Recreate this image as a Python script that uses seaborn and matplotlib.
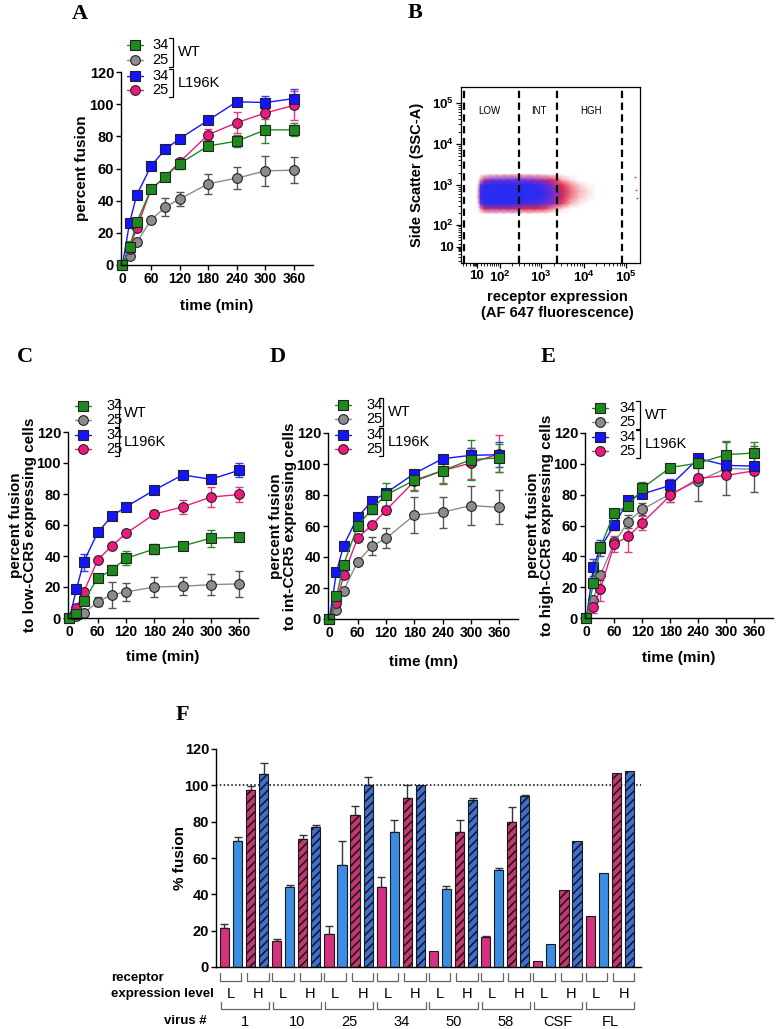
import numpy as np
import pandas as pd
import matplotlib
matplotlib.use("Agg")
import matplotlib.pyplot as plt
import matplotlib.transforms as mtransforms
import seaborn as sns
from matplotlib.lines import Line2D
from matplotlib.colors import LinearSegmentedColormap

# ---------------- data ----------------
time_min = [0, 15, 30, 60, 90, 120, 180, 240, 300, 360]
series_names = ["WT 34", "WT 25", "L196K 34", "L196K 25"]

# panel A
a_wt34 = [0, 11, 26.5, 47, 55, 63, 74, 77, 84, 84]
a_wt34_err = [0, 4, 2, 2, 2, 3.5, 2, 3.6, 8.3, 4]
a_wt25 = [0, 5.5, 14, 28, 36, 41, 50.5, 54, 58.5, 59]
a_wt25_err = [0, 1, 1.5, 2, 5.5, 4.5, 6.3, 6.8, 9.3, 8.3]
a_l34 = [0, 26.3, 43.5, 61.5, 72, 78.5, 90, 101.5, 101, 103.5]
a_l34_err = [0, 1, 1, 1, 1, 1, 1, 1, 4, 6]
a_l25 = [0, 10, 23, 47, 55, 64, 81, 88.5, 94.5, 99.3]
a_l25_err = [0, 2, 2, 1.5, 1.5, 2, 3.5, 6.7, 4, 9]

# panel C (low-CCR5)
c_wt34 = [0, 2.7, 10.7, 25.7, 31, 38.5, 44.5, 46.5, 51.5, 52]
c_wt34_err = [0, 1, 1.5, 2, 3, 4.5, 3, 1, 5.5, 1.5]
c_wt25 = [0, 1, 3, 10.5, 15, 16.8, 20, 20.5, 21.5, 22]
c_wt25_err = [0, 0.5, 1, 3, 8.5, 5.6, 6.5, 5.8, 6.8, 8.4]
c_l34 = [0, 18.6, 36, 55.2, 65.7, 71.7, 82.5, 92.3, 89.5, 95.3]
c_l34_err = [0, 1, 5.5, 1, 1, 1, 1, 1, 1, 4.5]
c_l25 = [0, 6.7, 16.5, 37.5, 46.5, 54.6, 67, 71.7, 78, 79.7]
c_l25_err = [0, 1, 2, 1.5, 1.5, 2, 2.5, 4.5, 6.5, 5]

# panel D (int-CCR5)
d_wt34 = [0, 14.6, 35, 60, 71, 80, 89.5, 95.7, 102.8, 104]
d_wt34_err = [0, 3, 2, 2, 3, 7.5, 6, 8.5, 13, 9]
d_wt25 = [0, 6, 18.3, 37, 47, 52, 67, 68.9, 73.2, 72]
d_wt25_err = [0, 1, 1.5, 2, 6, 6.5, 11.8, 10, 12.7, 11]
d_l34 = [0, 30.5, 47.3, 65.8, 76, 81.3, 93.8, 103.4, 105.6, 106]
d_l34_err = [0, 2, 1, 1.5, 2.5, 1.5, 1, 1, 5, 8]
d_l25 = [0, 10.5, 28.2, 52.4, 60.5, 70.2, 88.8, 95.7, 100.6, 106.6]
d_l25_err = [0, 2, 2, 1.5, 2, 2.5, 6, 8, 10, 12]

# panel E (high-CCR5)
e_wt34 = [0, 22.5, 45.9, 68.4, 72.7, 84.2, 97.6, 100.5, 106, 107]
e_wt34_err = [0, 3, 3, 2, 2, 4, 1.5, 3, 8.5, 7]
e_wt25 = [0, 12, 27.7, 49, 62.5, 70.5, 80.5, 89, 97, 96.5]
e_wt25_err = [0, 2, 3, 3, 4, 4, 5, 13, 17, 15]
e_l34 = [0, 32.9, 45.5, 60.4, 76.5, 80.5, 86, 103.5, 99, 98.5]
e_l34_err = [0, 5.5, 5, 3, 2, 2, 4, 2, 2, 2]
e_l25 = [0, 7, 19, 48, 53, 61.8, 79.5, 90.5, 92.5, 95.5]
e_l25_err = [0, 4, 8, 5, 10, 4.5, 4.5, 3, 2, 2]

# panel B (flow cytometry density, read as a coarse grid; log10 coordinates)
b_xlog = [0.9, 1.1, 1.3, 1.5, 1.7, 1.9, 2.1, 2.3, 2.5, 2.7, 2.9, 3.1, 3.3, 3.5, 3.7, 3.9, 4.1, 4.3, 4.5]
b_ylog = [2.30, 2.42, 2.55, 2.70, 2.85, 3.00, 3.12, 3.25]
b_density = [
    [0, 0, 0, 0.3, 0.4, 0.4, 0.4, 0.4, 0.3, 0.3, 0.2, 0.2, 0, 0, 0, 0, 0, 0, 0],
    [0, 0, 0.8, 1.6, 1.8, 1.8, 1.8, 1.8, 1.6, 1.5, 1.4, 1.2, 0.8, 0.3, 0, 0, 0, 0, 0],
    [0, 0.3, 2.4, 3, 3, 3, 3, 3, 2.9, 2.8, 2.7, 2.5, 2.0, 1.2, 0.6, 0.2, 0, 0, 0],
    [0, 0.6, 2.8, 3, 3, 3, 3, 3, 3, 3, 3, 2.8, 2.3, 1.5, 0.9, 0.5, 0.2, 0, 0],
    [0, 0.6, 2.8, 3, 3, 3, 3, 3, 3, 3, 3, 2.8, 2.3, 1.5, 1.0, 0.6, 0.3, 0, 0],
    [0, 0.3, 2.4, 3, 3, 3, 3, 3, 3, 3, 2.9, 2.6, 2.0, 1.3, 0.8, 0.4, 0.1, 0, 0],
    [0, 0, 0.8, 1.8, 2.2, 2.4, 2.4, 2.4, 2.3, 2.2, 2.0, 1.8, 1.3, 0.7, 0.3, 0, 0, 0, 0],
    [0, 0, 0, 0.2, 0.4, 0.5, 0.6, 0.6, 0.6, 0.6, 0.5, 0.4, 0.2, 0, 0, 0, 0, 0, 0],
]
b_stray_x = [1.6e5, 1.75e5, 1.8e5]
b_stray_y = [1600, 750, 480]
b_gates = [-26, 290, 2400, 80000]
b_gate_names = ["LOW", "INT", "HGH"]
b_ticks = [10, 100, 1000, 10000, 100000]
b_ticklabels = ["10", "$10^{2}$", "$10^{3}$", "$10^{4}$", "$10^{5}$"]

# panel F
virus_labels = ["1", "10", "25", "34", "50", "58", "CSF", "FL"]
level_labels = ["L", "H"]
f_pink_low = [21.5, 14.5, 18.3, 43.9, 9, 16.5, 3.5, 27.9]
f_pink_low_err = [2.4, 1, 4, 5.7, 0, 0.8, 0, 0]
f_blue_low = [69.2, 43.9, 56, 74.5, 43.1, 53.6, 12.7, 51.9]
f_blue_low_err = [2.2, 1.2, 13.2, 6.2, 1.6, 0.9, 0, 0]
f_pink_high = [97.3, 70.2, 83.9, 93, 74.5, 79.7, 42.2, 107]
f_pink_high_err = [2.4, 2.7, 4.6, 7.3, 6.6, 8.4, 0, 0]
f_blue_high = [106.4, 77.1, 100, 100, 91.8, 94.1, 69.2, 108.1]
f_blue_high_err = [6, 1, 4.6, 0, 1.3, 0.7, 0, 0]

# ---------------- style ----------------
sns.set_theme(style="white")
plt.rcParams['font.family'] = ['Liberation Sans', 'DejaVu Sans']
plt.rcParams['mathtext.fontset'] = 'custom'
plt.rcParams['mathtext.rm'] = 'Liberation Sans:bold'
plt.rcParams['mathtext.bf'] = 'Liberation Sans:bold'
plt.rcParams['mathtext.default'] = 'bf'
plt.rcParams['hatch.linewidth'] = 1.2
for k in ['text.color', 'axes.labelcolor', 'xtick.color', 'ytick.color', 'axes.edgecolor']:
    plt.rcParams[k] = 'black'

W, H = 777, 1029
fig = plt.figure(figsize=(W / 100, H / 100), dpi=100)
fig.patch.set_facecolor('white')


def fx(px):
    return px / W


def fy(py):
    return 1 - py / H


def ax_at(l, t, r, b):
    return fig.add_axes([l / W, 1 - b / H, (r - l) / W, (b - t) / H])


colors = {"WT 34": "#1e8a1e", "WT 25": "#8c8c8c", "L196K 34": "#1414ff", "L196K 25": "#f0187f"}
err_colors = {"WT 34": "#2a8a2a", "WT 25": "#555555", "L196K 34": "#3a3aff", "L196K 25": "#e8358a"}
markers = {"WT 34": "s", "WT 25": "o", "L196K 34": "s", "L196K 25": "o"}
draw_order = ["WT 25", "L196K 25", "L196K 34", "WT 34"]


def style_axes(ax):
    sns.despine(ax=ax)
    for s in ['left', 'bottom']:
        ax.spines[s].set_color('black')
        ax.spines[s].set_linewidth(1.0)
    ax.tick_params(axis='both', which='major', direction='out', length=3.5, width=1,
                   color='black', pad=1.5, bottom=True, left=True)


def line_panel(ax, vals, errs, xlabel, ylabel, ylab_x, xlab_y):
    rows = []
    for name in series_names:
        for t, v in zip(time_min, vals[name]):
            rows.append((t, v, name))
    df = pd.DataFrame(rows, columns=["time", "fusion", "series"])
    for name in draw_order:
        ax.errorbar(time_min, vals[name], yerr=errs[name], fmt='none', ecolor=err_colors[name],
                    elinewidth=1, capsize=3.2, capthick=1, zorder=1.5, clip_on=False)
    sns.lineplot(data=df, x="time", y="fusion", hue="series", style="series",
                 hue_order=draw_order, style_order=draw_order, palette=colors,
                 markers=markers, dashes=False, markersize=7, markeredgecolor='#222222',
                 markeredgewidth=0.8, linewidth=1, legend=False, ax=ax, errorbar=None,
                 sort=False, clip_on=False)
    ax.set_xlim(-3, 400)
    ax.set_ylim(0, 120)
    style_axes(ax)
    ax.set_xticks(time_min[:1] + time_min[3:4] + time_min[5:])
    ax.set_xticklabels(["0", "60", "120", "180", "240", "300", "360"], fontweight='bold', fontsize=10)
    ax.set_yticks([0, 20, 40, 60, 80, 100, 120])
    ax.set_yticklabels(["0", "20", "40", "60", "80", "100", "120"], fontweight='bold', fontsize=10.5)
    ax.set_xlabel(xlabel, fontweight='bold', fontsize=11, va='center')
    ax.set_ylabel(ylabel, fontweight='bold', fontsize=11, va='center', linespacing=1.0)
    ax.yaxis.set_label_coords(ylab_x, 0.5)
    ax.xaxis.set_label_coords(0.5, xlab_y)


def legend_block(x0, text_x, br_x, ys):
    entries = [("WT 34", "34"), ("WT 25", "25"), ("L196K 34", "34"), ("L196K 25", "25")]
    for (name, lab), y in zip(entries, ys):
        fig.add_artist(Line2D([fx(x0 - 8), fx(x0 + 8)], [fy(y), fy(y)], color=colors[name], lw=1))
        fig.add_artist(Line2D([fx(x0)], [fy(y)], marker=markers[name], ms=7, mfc=colors[name],
                              mec='#222222', mew=0.8, ls='none'))
        fig.text(fx(text_x), fy(y), lab, ha='left', va='center', fontsize=10.5)
    for k, grp in enumerate(["WT", "L196K"]):
        ytop = ys[2 * k] - 7
        ybot = ys[2 * k + 1] + 7
        fig.add_artist(Line2D([fx(br_x - 4), fx(br_x), fx(br_x), fx(br_x - 4)],
                              [fy(ytop), fy(ytop), fy(ybot), fy(ybot)], color='black', lw=0.9))
        fig.text(fx(br_x + 5), fy((ytop + ybot) / 2), grp, ha='left', va='center', fontsize=10.5)


def panel_letter(x, y, s):
    fig.text(fx(x), fy(y), s, ha='center', va='center', fontsize=16, fontweight='bold',
             family=['Liberation Serif', 'DejaVu Serif'])


# ---------------- panel A ----------------
axA = ax_at(121, 72, 313, 265)
line_panel(axA,
           {"WT 34": a_wt34, "WT 25": a_wt25, "L196K 34": a_l34, "L196K 25": a_l25},
           {"WT 34": a_wt34_err, "WT 25": a_wt25_err, "L196K 34": a_l34_err, "L196K 25": a_l25_err},
           "time (min)", "percent fusion", (82 - 121) / 192, (265 - 306) / 193)
legend_block(135, 152, 173, [45, 60, 76, 90])
panel_letter(80, 14, "A")

# ---------------- panel C ----------------
axC = ax_at(68, 432, 258, 618)
line_panel(axC,
           {"WT 34": c_wt34, "WT 25": c_wt25, "L196K 34": c_l34, "L196K 25": c_l25},
           {"WT 34": c_wt34_err, "WT 25": c_wt25_err, "L196K 34": c_l34_err, "L196K 25": c_l25_err},
           "time (min)", "percent fusion\nto low-CCR5 expressing cells", (23 - 68) / 190, (618 - 657) / 186)
legend_block(83, 106, 119, [406, 420, 435, 449])
panel_letter(25, 357, "C")

# ---------------- panel D ----------------
axD = ax_at(328, 433, 518, 619)
line_panel(axD,
           {"WT 34": d_wt34, "WT 25": d_wt25, "L196K 34": d_l34, "L196K 25": d_l25},
           {"WT 34": d_wt34_err, "WT 25": d_wt25_err, "L196K 34": d_l34_err, "L196K 25": d_l25_err},
           "time (mn)", "percent fusion\nto int-CCR5 expressing cells", (283 - 328) / 190, (619 - 662) / 186)
legend_block(343, 366, 383, [405, 419, 435, 449])
panel_letter(278, 357, "D")

# ---------------- panel E ----------------
axE = ax_at(585, 433, 773, 618)
line_panel(axE,
           {"WT 34": e_wt34, "WT 25": e_wt25, "L196K 34": e_l34, "L196K 25": e_l25},
           {"WT 34": e_wt34_err, "WT 25": e_wt25_err, "L196K 34": e_l34_err, "L196K 25": e_l25_err},
           "time (min)", "percent fusion\nto high-CCR5 expressing cells", (540 - 585) / 188, (618 - 658) / 185)
legend_block(600, 619, 640, [408, 422, 437, 451])
panel_letter(548, 357, "E")

# ---------------- panel B ----------------
C0 = 50.0


def fwd(v):
    return np.arcsinh(np.asarray(v, dtype=float) / C0) / np.log(10)


def inv(u):
    return C0 * np.sinh(np.asarray(u, dtype=float) * np.log(10))


axB = ax_at(461, 87, 640, 263)
axB.set_xscale('function', functions=(fwd, inv))
axB.set_yscale('function', functions=(fwd, inv))
cmap_b = LinearSegmentedColormap.from_list(
    "flow", [(0, "white"), (0.2, "#f6b8c0"), (0.45, "#e2283e"), (0.72, "#8a2ec8"), (1.0, "#2a2cf2")])
Xg, Yg = np.meshgrid(10 ** np.array(b_xlog), 10 ** np.array(b_ylog))
axB.pcolormesh(Xg, Yg, np.array(b_density), cmap=cmap_b, vmin=0, vmax=3, shading='gouraud', zorder=1)
axB.scatter(b_stray_x, b_stray_y, s=1.5, color='#e83040', zorder=2, linewidths=0)
for g in b_gates:
    axB.axvline(g, color='black', ls=(0, (3.3, 2.0)), lw=1.6, zorder=3)
axB.set_xlim(-36, 213000)
axB.set_ylim(-38, 245000)
for s in axB.spines.values():
    s.set_color('black')
    s.set_linewidth(0.9)
axB.tick_params(axis='both', which='major', direction='out', length=3.5, width=0.9, pad=1.5,
                bottom=True, left=True, top=False, right=False)
axB.tick_params(axis='both', which='minor', direction='out', length=2, width=0.6,
                bottom=True, left=True, top=False, right=False)
minor_b = [-30, -20, -10, 0, 2, 4, 6, 8] + [k * 10 ** n for n in range(1, 5) for k in range(2, 10)]
axB.set_xticks(b_ticks)
axB.set_xticklabels(b_ticklabels, fontsize=9.5, fontweight='bold')
axB.set_yticks(b_ticks)
axB.set_yticklabels(b_ticklabels, fontsize=9.5, fontweight='bold')
axB.set_xticks(minor_b, minor=True)
axB.set_yticks(minor_b, minor=True)
axB.set_xticklabels([], minor=True)
axB.set_yticklabels([], minor=True)
axB.grid(False)
gate_x = [(489 - 461) / 179, (539 - 461) / 179, (591 - 461) / 179]
for gx, name in zip(gate_x, b_gate_names):
    axB.text(gx, 0.865, name, transform=axB.transAxes, ha='center', va='center', fontsize=7)
axB.set_ylabel("Side Scatter (SSC-A)", fontweight='bold', fontsize=10.5, va='center')
axB.yaxis.set_label_coords((417 - 461) / 179, 0.5)
axB.set_xlabel("receptor expression\n(AF 647 fluorescence)", fontweight='bold', fontsize=10.5,
               va='center', linespacing=1.15)
axB.xaxis.set_label_coords((557 - 461) / 179, (263 - 305) / 176)
panel_letter(415, 13, "B")

# ---------------- panel F ----------------
axF = ax_at(216, 749, 641, 967)
bar_ids, bar_vals, bar_errs, bar_cols, bar_hatches = [], [], [], [], []
for g, v in enumerate(virus_labels):
    quad = [(f_pink_low, f_pink_low_err, "#f2157f", ""),
            (f_blue_low, f_blue_low_err, "#1e8cff", ""),
            (f_pink_high, f_pink_high_err, "#e01e6c", "////"),
            (f_blue_high, f_blue_high_err, "#2468f0", "////")]
    for j, (vals, errs, col, hat) in enumerate(quad):
        bar_ids.append(f"{v}-{j}")
        bar_vals.append(vals[g])
        bar_errs.append(errs[g])
        bar_cols.append(col)
        bar_hatches.append(hat)
df_f = pd.DataFrame({"bar": bar_ids, "fusion": bar_vals})
axF.axhline(100, color='black', ls=(0, (1, 1.5)), lw=1.1, zorder=0.5)
sns.barplot(data=df_f, x="bar", y="fusion", hue="bar", order=bar_ids, hue_order=bar_ids,
            palette=bar_cols, dodge=False, width=0.7, legend=False, ax=axF,
            edgecolor='#1a1a1a', linewidth=0.8, errorbar=None)
for patch, hat in zip(axF.patches, bar_hatches):
    patch.set_hatch(hat)
xs = np.arange(len(bar_vals))
errs_arr = np.array(bar_errs)
mask = errs_arr > 0
axF.errorbar(xs[mask], np.array(bar_vals)[mask], yerr=[np.zeros(mask.sum()), errs_arr[mask]],
             fmt='none', ecolor='#333333', elinewidth=1, capsize=3, capthick=1, zorder=0.9)
axF.set_xlim(-0.65, 31.9)
axF.set_ylim(0, 120)
style_axes(axF)
axF.set_xticks([])
axF.set_xlabel("")
axF.set_yticks([0, 20, 40, 60, 80, 100, 120])
axF.set_yticklabels(["0", "20", "40", "60", "80", "100", "120"], fontweight='bold', fontsize=10.5)
axF.set_ylabel("% fusion", fontweight='bold', fontsize=11, va='center')
axF.yaxis.set_label_coords((180 - 216) / 425, 0.5)

tr = mtransforms.blended_transform_factory(axF.transData, fig.transFigure)
br_col = '#666666'
for g, v in enumerate(virus_labels):
    base = 4 * g
    for (a, b), lab in zip([(base - 0.35, base + 1.3), (base + 1.75, base + 3.4)], level_labels):
        fig.add_artist(Line2D([a, a, b, b], [fy(973), fy(981), fy(981), fy(973)], color=br_col,
                              lw=0.9, transform=tr))
        fig.text((a + b) / 2, fy(994), lab, transform=tr, ha='center', va='center', fontsize=10.5)
    a, b = base - 0.3, base + 3.4
    fig.add_artist(Line2D([a, a, b, b], [fy(1002), fy(1009), fy(1009), fy(1002)], color=br_col,
                          lw=0.9, transform=tr))
    fig.text(base + 1.55, fy(1022), v, transform=tr, ha='center', va='center', fontsize=10.5)
fig.text(fx(111), fy(978), "receptor", ha='left', va='center', fontsize=9.5, fontweight='bold')
fig.text(fx(111), fy(994), "expression level", ha='left', va='center', fontsize=9.5, fontweight='bold')
fig.text(fx(207), fy(1021), "virus #", ha='right', va='center', fontsize=9.5, fontweight='bold')
panel_letter(182, 715, "F")

fig.savefig("out.png", dpi=100, facecolor='white')
